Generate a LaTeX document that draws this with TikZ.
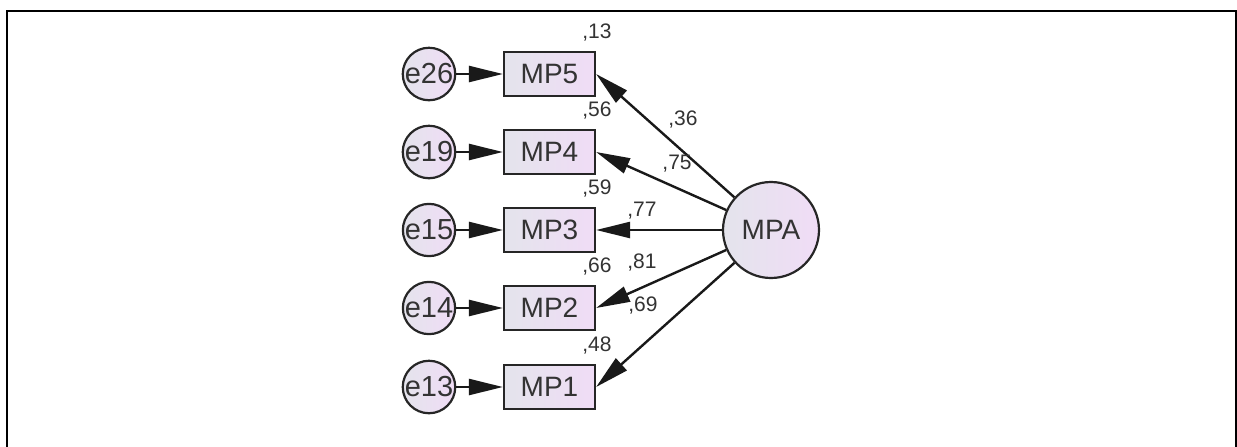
\documentclass[tikz,border=0pt]{standalone}
\usepackage{fontspec}
\setmainfont{Liberation Sans}
\usetikzlibrary{arrows.meta}
\definecolor{ink}{HTML}{333333}
\definecolor{fillL}{HTML}{E4E4EC}
\definecolor{fillR}{HTML}{F0DCF6}
\tikzset{
  obs/.style={draw=black!85, line width=1.1pt, left color=fillL, right color=fillR,
    minimum width=45.5pt, minimum height=22pt, inner sep=0pt,
    font=\fontsize{14}{14}\selectfont, text=ink},
  err/.style={circle, draw=black!85, line width=1.1pt, left color=fillL, right color=fillR,
    minimum size=18pt, inner sep=0pt, font=\fontsize{14.5}{14.5}\selectfont, text=ink},
  lat/.style={circle, draw=black!85, line width=1.1pt, left color=fillL, right color=fillR,
    minimum size=48pt, inner sep=0pt, font=\fontsize{14}{14}\selectfont, text=ink},
  coef/.style={inner sep=0pt, font=\fontsize{10.5}{10.5}\selectfont, text=ink},
  arr/.style={line width=1.2pt, draw=black!90, -{Triangle[length=17pt,width=8pt]}},
  frameline/.style={line width=1pt, draw=black}
}
\begin{document}
\begin{tikzpicture}[x=0.5pt,y=-0.5pt]
  \useasboundingbox (0,0) rectangle (1237,446);
  \fill[white] (0,0) rectangle (1237,446);
  % outer frame (left, top and right sides)
  \draw[frameline] (7,470) -- (7,11) -- (1236,11) -- (1236,470);

  % indicators
  \node[obs] (MP5) at (549.5,74) {MP5};
  \node[obs] (MP4) at (549.5,152) {MP4};
  \node[obs] (MP3) at (549.5,230) {MP3};
  \node[obs] (MP2) at (549.5,308) {MP2};
  \node[obs] (MP1) at (549.5,387) {MP1};

  % error terms
  \node[err] (e26) at (429,74) {e26};
  \node[err] (e19) at (429,152) {e19};
  \node[err] (e15) at (429,230) {e15};
  \node[err] (e14) at (429,308) {e14};
  \node[err] (e13) at (429,387) {e13};

  % latent factor
  \node[lat] (MPA) at (771,230) {MPA};

  % error paths
  \foreach \e/\m in {e26/MP5,e19/MP4,e15/MP3,e14/MP2,e13/MP1}
    \draw[arr] (\e) -- (\m);

  % loadings
  \foreach \m in {MP5,MP4,MP3,MP2,MP1}
    \draw[arr] (MPA) -- (\m.east);

  % squared multiple correlations
  \node[coef] (r5) at (597,33) {,13};
  \node[coef] (r4) at (597,111) {,56};
  \node[coef] (r3) at (597,189) {,59};
  \node[coef] (r2) at (597,267) {,66};
  \node[coef] (r1) at (597,346) {,48};

  % standardized loadings
  \node[coef] (l5) at (683,120) {,36};
  \node[coef] (l4) at (677,164) {,75};
  \node[coef] (l3) at (642,211) {,77};
  \node[coef] (l2) at (642,263) {,81};
  \node[coef] (l1) at (643,306) {,69};
\end{tikzpicture}
\end{document}
